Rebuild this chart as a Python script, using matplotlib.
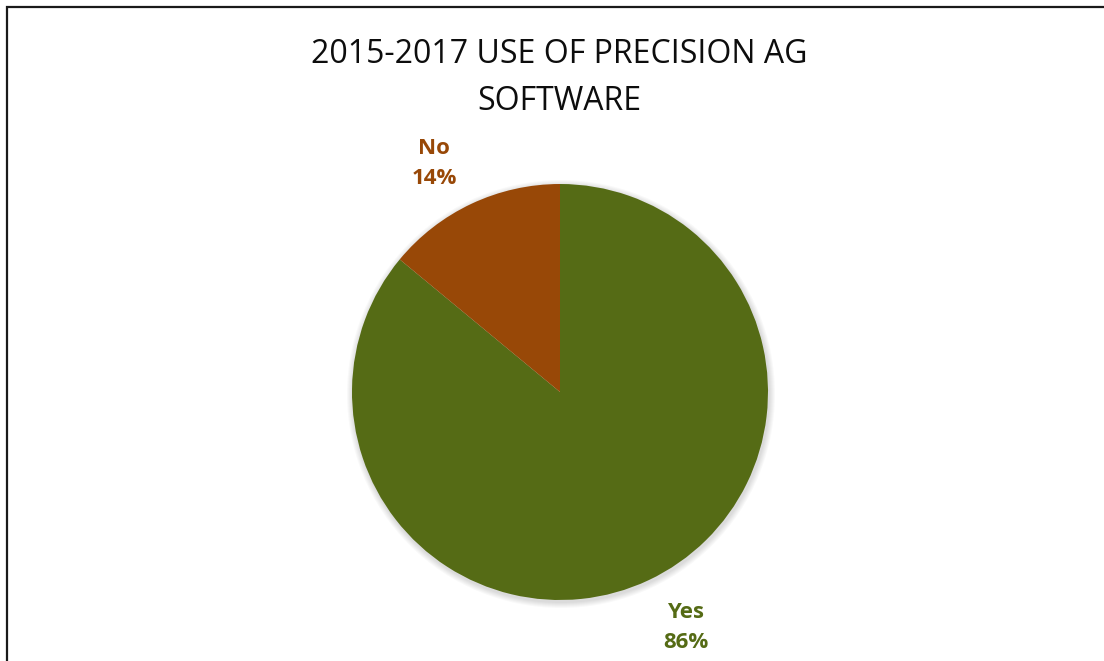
import numpy as np
import matplotlib
matplotlib.use("Agg")
import matplotlib.pyplot as plt
from matplotlib.patches import Rectangle, Circle

title = "2015-2017 USE OF PRECISION AG\nSOFTWARE"
labels = ["Yes", "No"]
shares = [86, 14]
colors = ["#556B15", "#984807"]

W, H = 1104, 661
fig = plt.figure(figsize=(W / 100, H / 100), dpi=100)
ax = fig.add_axes([0, 0, 1, 1])

cx, cy, r = 560, H - 392, 208

# soft shadow around the pie
for k in range(6):
    ax.add_patch(Circle((cx + 1, cy - 2), r + 1 + k, color="black",
                        alpha=0.025, lw=0, zorder=0))

wedges, texts = ax.pie(
    shares, colors=colors, startangle=90, counterclock=False,
    center=(cx, cy), radius=r, frame=True,
    labels=[f"{l}\n{s}%" for l, s in zip(labels, shares)],
    labeldistance=1.26,
    wedgeprops=dict(linewidth=0),
    textprops=dict(fontsize=16, fontweight="bold", family="Open Sans",
                   linespacing=1.55),
)
# nudge labels outward a little, like the original layout
for t, c, dy in zip(texts, colors, [2, -9]):
    x, y = t.get_position()
    t.set_position((x + np.sign(x - cx) * 14, y + dy))
    t.set_color(c)
    t.set_ha("center")
    t.set_va("center")
ax.set_xlim(0, W)
ax.set_ylim(0, H)
ax.set_aspect("equal")
ax.axis("off")

fig.text(559 / W, 1 - 78 / H, title, ha="center", va="center",
         fontsize=23, family="Open Sans", color="#0d0d0d", linespacing=1.55)

# chart frame (cropped on the right and bottom)
fig.patches.append(Rectangle((6.5 / W, -0.1), 1.2, 1.1 - 6.5 / H,
                             transform=fig.transFigure, fill=False,
                             edgecolor="#1a1a1a", lw=1.6))

fig.savefig("out.png", dpi=100)
